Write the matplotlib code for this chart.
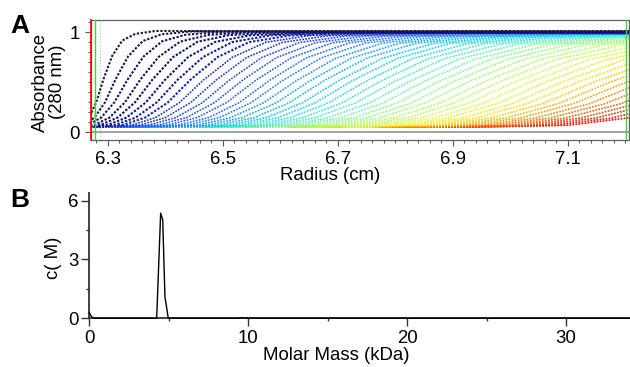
import numpy as np
import matplotlib.pyplot as plt
from matplotlib.colors import LinearSegmentedColormap
from matplotlib.ticker import FixedLocator

plt.rcParams['font.family'] = ['Liberation Sans', 'DejaVu Sans']

# Panel A: sedimentation velocity scans (radius at half height, boundary width, plateau)
boundary_mid = [6.293, 6.314, 6.335, 6.357, 6.378, 6.400, 6.422, 6.444, 6.467, 6.489,
                6.512, 6.535, 6.558, 6.582, 6.605, 6.629, 6.653, 6.677, 6.702, 6.726,
                6.751, 6.776, 6.801, 6.827, 6.852, 6.878, 6.904, 6.930, 6.957, 6.983,
                7.010, 7.037, 7.064, 7.092, 7.119, 7.147, 7.175, 7.203, 7.232, 7.260,
                7.289, 7.318, 7.347, 7.377, 7.406]
boundary_width = [0.050, 0.073, 0.092, 0.107, 0.121, 0.134, 0.146, 0.157, 0.167, 0.177,
                  0.187, 0.196, 0.205, 0.213, 0.222, 0.230, 0.238, 0.245, 0.253, 0.260,
                  0.267, 0.274, 0.281, 0.287, 0.294, 0.300, 0.306, 0.313, 0.319, 0.325,
                  0.331, 0.336, 0.342, 0.348, 0.353, 0.359, 0.364, 0.370, 0.375, 0.380,
                  0.386, 0.391, 0.396, 0.401, 0.406]
plateau = [1.010, 1.006, 1.002, 0.999, 0.997, 0.995, 0.994, 0.993, 0.992, 0.990,
           0.989, 0.988, 0.986, 0.985, 0.984, 0.982, 0.981, 0.980, 0.978, 0.977,
           0.975, 0.974, 0.972, 0.971, 0.969, 0.968, 0.966, 0.965, 0.963, 0.962,
           0.960, 0.959, 0.957, 0.956, 0.954, 0.953, 0.951, 0.950, 0.948, 0.947,
           0.945, 0.944, 0.942, 0.941, 0.940]
baseline = 0.05

# shape of one boundary, offsets in units of its width
profile_offset = [-1.1, -0.75, -0.5, -0.25, 0.0, 0.3, 0.65, 1.1, 1.8]
profile_frac = [0.0, 0.02, 0.1, 0.26, 0.5, 0.74, 0.9, 0.97, 1.0]

scan_colors = [(0.0, (0.10, 0.10, 0.25)), (0.1, (0.05, 0.05, 0.50)),
               (0.2, (0.10, 0.20, 0.90)), (0.3, (0.15, 0.45, 1.00)),
               (0.42, (0.00, 0.85, 1.00)), (0.55, (0.45, 1.00, 0.60)),
               (0.7, (0.85, 1.00, 0.20)), (0.77, (1.00, 0.90, 0.00)),
               (0.85, (1.00, 0.60, 0.00)), (1.0, (0.95, 0.00, 0.00))]
scan_cmap = LinearSegmentedColormap.from_list('scans', scan_colors)

# Panel B: c(M) distribution
mass_kda = [0.0, 0.08, 0.2, 0.35, 4.24, 4.49, 4.62, 4.76, 4.97, 9.3, 9.6, 10.0, 34.0]
c_m = [0.3, 0.15, 0.05, 0.0, 0.0, 5.36, 5.02, 1.1, 0.0, 0.0, 0.03, 0.0, 0.0]

fs = 13.4

fig = plt.figure(figsize=(6.3, 3.67), dpi=100)

# ---- panel A
ax1 = fig.add_axes([0.1437, 0.6185, 0.8548, 0.327])
n = len(boundary_mid)
off = np.array(profile_offset)
frac = np.array(profile_frac)
for i in reversed(range(n)):
    x = np.concatenate(([6.0], boundary_mid[i] + off * boundary_width[i], [7.6]))
    y = np.concatenate(([baseline], baseline + (plateau[i] - baseline) * frac, [plateau[i]]))
    lw = 1.5 if i < 8 else 1.15
    ax1.plot(x, y, color=scan_cmap(i / (n - 1)), lw=lw, ls=(0, (1.1, 0.8)),
             zorder=3 + (n - i) * 0.01)

ax1.axhline(0, color='#9a9a9a', lw=1.3, zorder=2)
ax1.axvline(6.2705, color='red', lw=1.2, zorder=5, clip_on=False)
ax1.axvline(6.278, color='#33dd33', lw=1.0, zorder=5)
ax1.axvline(6.2866, color='#bbbbbb', lw=0.8, ls=':', zorder=1)
ax1.axvline(7.2009, color='#33dd33', lw=1.0, zorder=5)

ax1.set_xlim(6.2704, 7.207)
ax1.set_ylim(-0.08, 1.12)
ax1.xaxis.set_major_locator(FixedLocator([6.3, 6.5, 6.7, 6.9, 7.1]))
ax1.xaxis.set_minor_locator(FixedLocator(np.arange(6.28, 7.21, 0.02)))
ax1.yaxis.set_major_locator(FixedLocator([0, 1]))
ax1.yaxis.set_minor_locator(FixedLocator(np.arange(0, 1.11, 0.1)))
ax1.set_xticklabels(['6.3', '6.5', '6.7', '6.9', '7.1'])
ax1.set_yticklabels(['0', '1'])
ax1.tick_params(which='major', direction='out', length=4, width=0.8, labelsize=fs,
                pad=4, color='#555555')
ax1.tick_params(which='minor', direction='out', length=2.5, width=0.7, color='#555555')
for s in ax1.spines.values():
    s.set_color('#606060')
    s.set_linewidth(0.9)

# ---- panel B
ax2 = fig.add_axes([0.1417, 0.1327, 0.8567, 0.3422])
ax2.plot(mass_kda, c_m, color='black', lw=1.0, clip_on=False, zorder=3)
ax2.set_xlim(0, 33.95)
ax2.set_ylim(0, 6.4)
ax2.xaxis.set_major_locator(FixedLocator([0, 10, 20, 30]))
ax2.xaxis.set_minor_locator(FixedLocator([5, 15, 25]))
ax2.yaxis.set_major_locator(FixedLocator([0, 3, 6]))
ax2.yaxis.set_minor_locator(FixedLocator([1.5, 4.5]))
ax2.set_xticklabels(['0', '10', '20', '30'])
ax2.set_yticklabels(['0', '3', '6'])
ax2.tick_params(which='major', direction='out', length=5.5, width=1.0, labelsize=fs,
                pad=3, color='#333333')
ax2.tick_params(axis='y', which='major', pad=2)
ax2.tick_params(which='minor', direction='out', length=2.5, width=1.0, color='#333333')
ax2.spines['top'].set_visible(False)
ax2.spines['right'].set_visible(False)
for s in ('left', 'bottom'):
    ax2.spines[s].set_color('#333333')
    ax2.spines[s].set_linewidth(1.3)

# ---- labels
fig.text(49 / 630, 1 - 82 / 367, 'Absorbance\n(280 nm)', rotation=90, ha='center',
         va='center', fontsize=fs, linespacing=1.05, multialignment='center')
fig.text(330 / 630, 1 - 175 / 367, 'Radius (cm)', ha='center', va='center', fontsize=fs)
fig.text(53.5 / 630, 1 - 258 / 367, 'c( M)', rotation=90, ha='center', va='center',
         fontsize=fs)
fig.text(336.7 / 630, 1 - 356 / 367, 'Molar Mass (kDa)', ha='center', va='center',
         fontsize=fs)
fig.text(10 / 630, 1 - 33 / 367, 'A', ha='left', va='baseline', fontsize=19,
         fontweight='bold')
fig.text(10 / 630, 1 - 207 / 367, 'B', ha='left', va='baseline', fontsize=19,
         fontweight='bold')

fig.savefig('out.png', dpi=100)
